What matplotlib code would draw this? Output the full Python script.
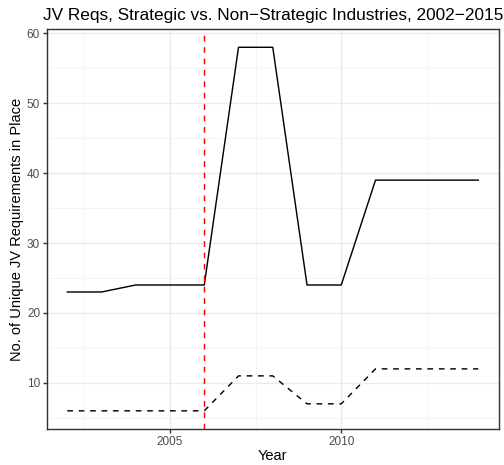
import matplotlib
matplotlib.use("Agg")
from matplotlib import pyplot as plt
from matplotlib.ticker import MultipleLocator

plt.rcParams['font.family'] = ['Liberation Sans', 'DejaVu Sans']

years = [2002, 2003, 2004, 2005, 2006, 2007, 2008, 2009, 2010, 2011, 2012, 2013, 2014]
strategic = [23, 23, 24, 24, 24, 58, 58, 24, 24, 39, 39, 39, 39]
non_strategic = [6, 6, 6, 6, 6, 11, 11, 7, 7, 12, 12, 12, 12]
policy_year = 2006

# sizes scaled for a 96 dpi device
k = 96 / 72

fig = plt.figure(figsize=(7, 465 / 72), dpi=72)
ax = fig.add_axes([0.0927, 0.0774, 0.897, 0.860])

lw = 1.07 * k
ax.plot(years, strategic, color="black", lw=lw)
ax.plot(years, non_strategic, color="black", lw=lw, linestyle=(0, (4, 4)))
ax.axvline(policy_year, color="#FF0000", lw=lw, linestyle=(0, (4, 4)))

# 5% padding on both sides, like ggplot
ymin, ymax = 6, 58
ypad = (ymax - ymin) * 0.05
ax.set_ylim(ymin - ypad, ymax + ypad)
ax.set_xlim(2002 - 0.6, 2014 + 0.6)

ax.xaxis.set_major_locator(MultipleLocator(5))
ax.xaxis.set_minor_locator(MultipleLocator(2.5))
ax.yaxis.set_major_locator(MultipleLocator(10))
ax.yaxis.set_minor_locator(MultipleLocator(5))

ax.grid(which="major", color="#EBEBEB", lw=1.07 * k)
ax.grid(which="minor", color="#F2F2F2", lw=0.55 * k)
ax.set_axisbelow(True)

for s in ax.spines.values():
    s.set_color("#333333")
    s.set_linewidth(1.07 * k)

ax.tick_params(which="major", length=2.75 * k, width=1.07 * k, color="#333333",
               labelsize=8.8 * k, labelcolor="#4D4D4D", pad=2.2 * k)
ax.tick_params(which="minor", length=0)

ax.set_xlabel("Year", fontsize=11 * k, labelpad=1)
ax.set_ylabel("No. of Unique JV Requirements in Place", fontsize=11 * k, labelpad=3)
ax.set_title("JV Reqs, Strategic vs. Non\u2212Strategic Industries, 2002\u22122015",
             fontsize=17.2, pad=9)

fig.savefig("out.png", dpi=72)
